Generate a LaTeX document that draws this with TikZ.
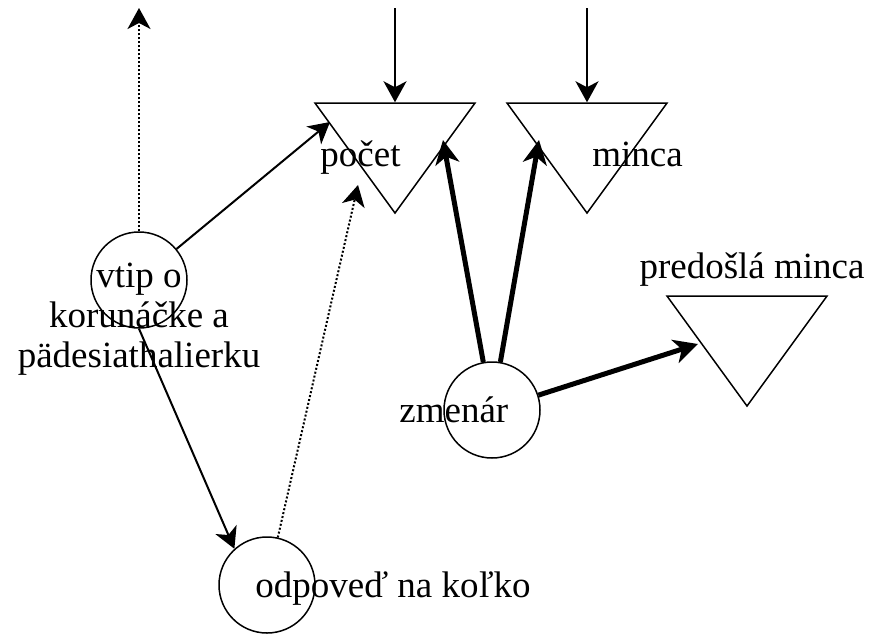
\documentclass[tikz,border=0pt]{standalone}
\usepackage{fontspec}
\setmainfont{Liberation Serif}
\usetikzlibrary{
    positioning,
    arrows.meta,
    shapes.geometric,
}
\tikzset{
    % Basic node styles
    process/.style={circle, draw, line width=0.75pt, minimum size=48pt, inner sep=0pt},
    store/.style={isosceles triangle, isosceles triangle stretches, shape border rotate=270,
                  draw, line width=0.75pt, minimum width=80pt, minimum height=55pt, inner sep=0pt},
    label text/.style={font=\fontsize{18.5pt}{20pt}\selectfont, inner sep=0pt},
    % Arrow styles
    arrow/.style={-{Stealth[length=10.5pt, width=11.5pt, inset=3pt]}, line width=1pt},
    dotted arrow/.style={arrow, dash pattern=on 1pt off 1pt, line width=1pt},
    thick arrow/.style={-{Stealth[length=12pt, width=12pt, inset=3.5pt]}, line width=2.5pt},
}

\begin{document}
\begin{tikzpicture}[x=0.5pt, y=-0.5pt]
    \useasboundingbox (0,0) rectangle (872,633);

    % Processes
    \node[process] (vtip) at (139,280) {};
    \node[process] (zmenar) at (492,410) {};
    \node[process] (odpoved) at (267,585) {};

    % Stores
    \node[store, anchor=apex] (pocet) at (395,215) {};
    \node[store, anchor=apex] (minca) at (587,215) {};
    \node[store, anchor=apex] (predosla) at (747,408) {};

    % Labels
    \node[label text, anchor=base, align=center] (vtip text) at (139,367) {vtip o\\korunáčke a\\pädesiathalierku};
    \node[label text, anchor=base west] (pocet text) at (320,166) {počet};
    \node[label text, anchor=base west] (minca text) at (592,166) {minca};
    \node[label text, anchor=base] (predosla text) at (752,278) {predošlá minca};
    \node[label text, anchor=base west] (zmenar text) at (399,422) {zmenár};
    \node[label text, anchor=base west] (odpoved text) at (255,597) {odpoveď na koľko};

    % Free ends
    \coordinate (vtip out) at (139,8);
    \coordinate (pocet in) at (395,8);
    \coordinate (minca in) at (587,8);
    \coordinate (pocet hit) at (330,122);
    \coordinate (pocet dot) at (358,185);
    \coordinate (pocet back) at (443,140);
    \coordinate (minca back) at (539,140);
    \coordinate (predosla hit) at (698,344);

    % Arrows
    \draw[dotted arrow] (vtip) -- (vtip out);
    \draw[arrow] (vtip) -- (pocet hit);
    \draw[arrow] (vtip.south) -- (odpoved.132);
    \draw[dotted arrow] (odpoved) -- (pocet dot);
    \draw[arrow] (pocet in) -- (pocet);
    \draw[arrow] (minca in) -- (minca);
    \draw[thick arrow] (zmenar) -- (pocet back);
    \draw[thick arrow] (zmenar) -- (minca back);
    \draw[thick arrow] (zmenar) -- (predosla hit);
\end{tikzpicture}
\end{document}
